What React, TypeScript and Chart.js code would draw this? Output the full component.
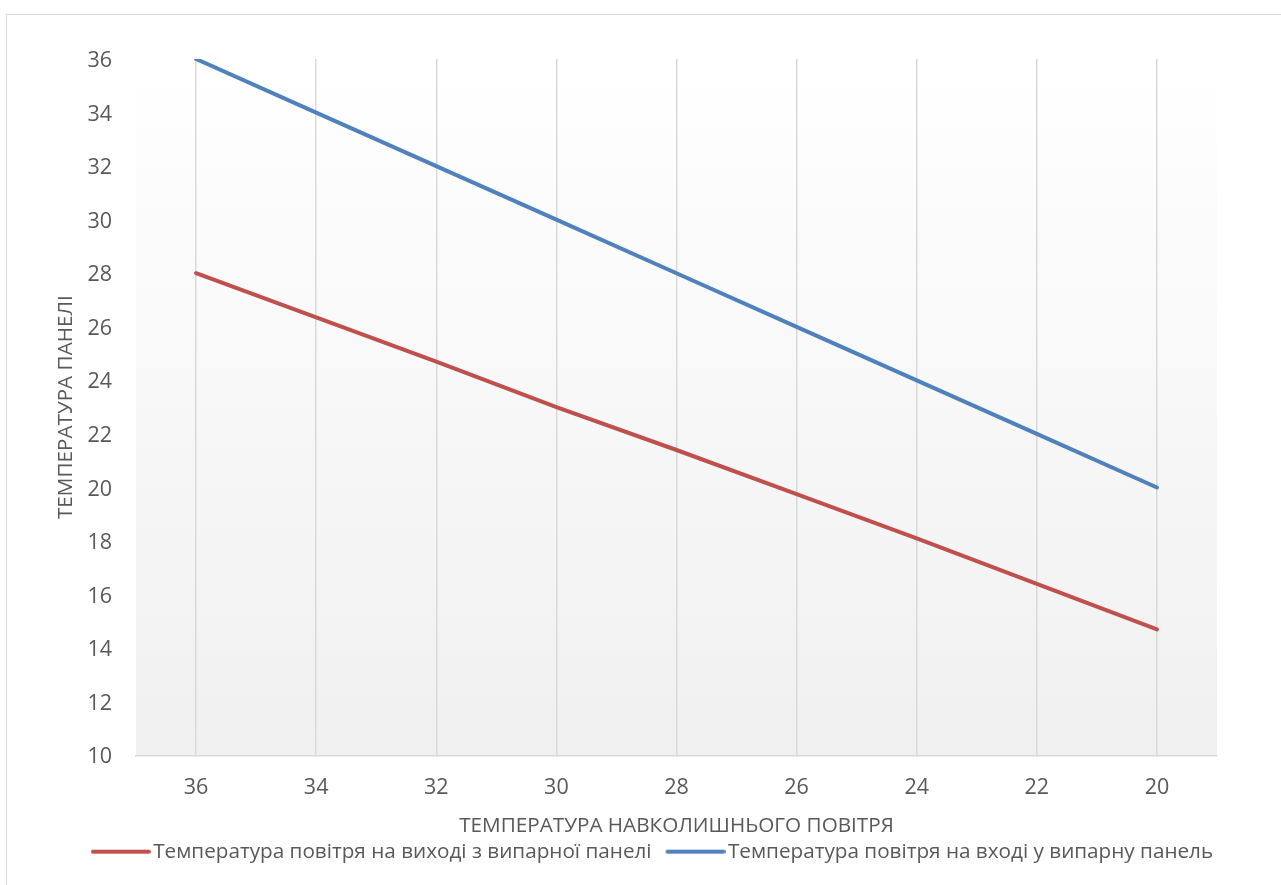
import { useEffect, useRef } from 'react';
import { Chart, registerables } from 'chart.js';

Chart.register(...registerables);

// Ambient air temperature categories (x axis)
const ambientTemps = ['36', '34', '32', '30', '28', '26', '24', '22', '20'];
// Air temperature leaving the evaporative panel
const outletAir = [28, 26.35, 24.7, 23.0, 21.4, 19.75, 18.1, 16.4, 14.7];
// Air temperature entering the evaporative panel
const inletAir = [36, 34, 32, 30, 28, 26, 24, 22, 20];

const seriesNames = [
  'Температура повітря на виході з випарної панелі',
  'Температура повітря на вході у випарну панель',
];
const xTitle = 'ТЕМПЕРАТУРА НАВКОЛИШНЬОГО ПОВІТРЯ';
const yTitle = 'ТЕМПЕРАТУРА ПАНЕЛІ';
const yMin = 10;
const yMax = 36;
const yStep = 2;

const RED = '#C0504D';
const BLUE = '#4F81BD';
const TEXT = '#595959';
const GRID = '#d9d9d9';
const FONT = "'Open Sans', 'DejaVu Sans', sans-serif";
const LABEL_SIZE = 20.7;
const TICK_SIZE = 21.5;

const CANVAS_W = 1290;
const CANVAS_H = 857;

// Legend swatch: a short thick line that reaches close to the label text
function legendLine(color: string): HTMLCanvasElement {
  const c = document.createElement('canvas');
  c.width = 68;
  c.height = 8;
  const ctx = c.getContext('2d')!;
  ctx.strokeStyle = color;
  ctx.lineWidth = 4;
  ctx.lineCap = 'round';
  ctx.beginPath();
  ctx.moveTo(10, 4);
  ctx.lineTo(66, 4);
  ctx.stroke();
  return c;
}

// Soft vertical fill behind the plot area
const plotBackground = {
  id: 'plotBackground',
  beforeDraw(chart: any) {
    const { ctx, chartArea } = chart;
    if (!chartArea) return;
    const g = ctx.createLinearGradient(0, chartArea.top, 0, chartArea.bottom);
    g.addColorStop(0, '#ffffff');
    g.addColorStop(1, '#f0f0f0');
    ctx.save();
    ctx.fillStyle = g;
    ctx.fillRect(chartArea.left, chartArea.top, chartArea.right - chartArea.left, chartArea.bottom - chartArea.top);
    ctx.restore();
  },
};

export default function App() {
  const canvasRef = useRef<HTMLCanvasElement | null>(null);

  useEffect(() => {
    const canvas = canvasRef.current;
    if (!canvas) return;
    const chart = new Chart(canvas, {
      type: 'line',
      data: {
        labels: ambientTemps,
        datasets: [
          {
            label: seriesNames[0],
            data: outletAir,
            borderColor: RED,
            backgroundColor: RED,
            borderWidth: 4,
            borderCapStyle: 'round',
            borderJoinStyle: 'round',
            pointRadius: 0,
            pointHoverRadius: 0,
            pointStyle: legendLine(RED),
            tension: 0,
          },
          {
            label: seriesNames[1],
            data: inletAir,
            borderColor: BLUE,
            backgroundColor: BLUE,
            borderWidth: 4,
            borderCapStyle: 'round',
            borderJoinStyle: 'round',
            pointRadius: 0,
            pointHoverRadius: 0,
            pointStyle: legendLine(BLUE),
            tension: 0,
          },
        ],
      },
      options: {
        responsive: false,
        animation: false,
        devicePixelRatio: 1,
        layout: { padding: { left: 0, right: 0, top: 44, bottom: 0 } },
        plugins: {
          tooltip: { enabled: false },
          legend: {
            position: 'bottom',
            labels: {
              usePointStyle: true,
              pointStyleWidth: 52,
              padding: 14,
              color: TEXT,
              font: { family: FONT, size: LABEL_SIZE },
            },
          },
        },
        scales: {
          x: {
            type: 'category',
            offset: true,
            afterFit: (scale: any) => {
              scale.height = 72;
            },
            grid: { offset: false, color: GRID, lineWidth: 1.5, drawTicks: false },
            border: { display: true, color: GRID, width: 1.5 },
            ticks: { padding: 20, color: TEXT, font: { family: FONT, size: TICK_SIZE } },
            title: {
              display: true,
              text: xTitle,
              color: TEXT,
              font: { family: FONT, size: LABEL_SIZE },
              padding: { top: 0, bottom: -11 },
            },
          },
          y: {
            min: yMin,
            max: yMax,
            afterFit: (scale: any) => {
              scale.width = 129;
            },
            grid: { display: false, drawTicks: false },
            border: { display: false },
            ticks: {
              stepSize: yStep,
              padding: 24,
              labelOffset: 2,
              color: TEXT,
              font: { family: FONT, size: TICK_SIZE },
            },
            title: {
              display: true,
              text: yTitle,
              color: TEXT,
              font: { family: FONT, size: LABEL_SIZE },
              padding: { top: 47, bottom: 0 },
            },
          },
          // empty right-hand margin beside the plot area
          yRight: {
            position: 'right',
            display: true,
            afterFit: (scale: any) => {
              scale.width = 80;
            },
            grid: { display: false, drawTicks: false },
            border: { display: false },
            ticks: { display: false },
          },
        },
      },
      plugins: [plotBackground],
    });
    return () => chart.destroy();
  }, []);

  return (
    <div style={{ position: 'fixed', left: 0, top: 0, width: 1281, height: 885, overflow: 'hidden', background: '#fff' }}>
      <div
        style={{
          position: 'absolute',
          left: 6,
          top: 14,
          width: CANVAS_W,
          height: CANVAS_H + 40,
          border: `1.5px solid ${GRID}`,
          boxSizing: 'content-box',
        }}
      >
        <canvas
          ref={canvasRef}
          width={CANVAS_W}
          height={CANVAS_H}
          style={{ display: 'block', width: CANVAS_W, height: CANVAS_H }}
        />
      </div>
    </div>
  );
}
